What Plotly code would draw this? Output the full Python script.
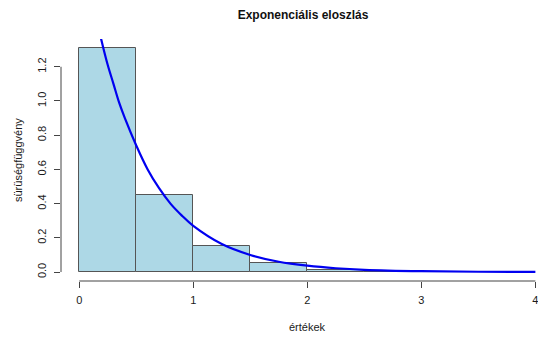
import plotly.graph_objects as go

# Histogram bins (density scale)
bin_left = [0.0, 0.5, 1.0, 1.5, 2.0, 2.5, 3.0]
bin_width = 0.5
bin_density = [1.31, 0.448, 0.153, 0.051, 0.012, 0.005, 0.002]

# Density curve
curve_x = [0.15, 0.2, 0.25, 0.3, 0.35, 0.4, 0.5, 0.6, 0.7, 0.8, 0.9, 1.0, 1.25, 1.5, 1.75, 2.0, 2.25, 2.5, 3.0, 3.5, 4.0]
curve_y = [1.48, 1.34, 1.21, 1.10, 0.99, 0.90, 0.74, 0.60, 0.49, 0.40, 0.33, 0.27, 0.164, 0.10, 0.060, 0.037, 0.022, 0.013, 0.005, 0.0018, 0.0007]

x_ticks = [0, 1, 2, 3, 4]
y_ticks = [0.0, 0.2, 0.4, 0.6, 0.8, 1.0, 1.2]
y_tick_labels = ["0.0", "0.2", "0.4", "0.6", "0.8", "1.0", "1.2"]

title_text = "Exponenciális eloszlás"
x_title = "értékek"
y_title = "sürüségfüggvény"

W, H = 538, 340
FONT = "Liberation Sans, Arial, sans-serif"
TXT = "#1a1a1a"

ymax = max(bin_density)
y_range = [-0.04 * ymax, ymax * 1.04]
x_range = [-0.16, 4.023]

fig = go.Figure()
fig.add_trace(go.Bar(
    x=[l + bin_width / 2 for l in bin_left],
    y=bin_density,
    width=bin_width,
    marker=dict(color="#ADD8E6", line=dict(color="#555555", width=1)),
    hoverinfo="skip",
))
fig.add_trace(go.Scatter(
    x=curve_x, y=curve_y, mode="lines",
    line=dict(color="#0000F0", width=2.2, shape="spline"),
    hoverinfo="skip",
))

shapes = [
    dict(type="line", xref="x", yref="paper", x0=x_ticks[0], x1=x_ticks[-1], y0=0, y1=0,
         line=dict(color="#444444", width=1)),
    dict(type="line", xref="paper", yref="y", x0=0, x1=0, y0=y_ticks[0], y1=y_ticks[-1],
         line=dict(color="#444444", width=1)),
]

annotations = [
    dict(text=x_title, xref="x", yref="paper", x=(x_range[0] + 4.16) / 2,
         y=0, yshift=-46, showarrow=False, font=dict(family=FONT, size=11, color=TXT),
         xanchor="center", yanchor="middle"),
    dict(text=y_title, xref="paper", yref="paper", x=0, y=0.5, xshift=-43, showarrow=False,
         textangle=-90, font=dict(family=FONT, size=11, color=TXT),
         xanchor="center", yanchor="middle"),
]

fig.update_layout(
    width=W, height=H,
    margin=dict(l=61, r=0, t=39, b=59),
    paper_bgcolor="white", plot_bgcolor="white",
    showlegend=False,
    bargap=0,
    title=dict(text="<b>" + title_text + "</b>", x=303 / W, xref="container", xanchor="center",
               y=1 - 15 / H, yref="container", yanchor="middle",
               font=dict(family=FONT, size=12, color="#111111")),
    xaxis=dict(range=x_range, tickvals=x_ticks, ticktext=[str(v) for v in x_ticks],
               ticks="outside", ticklen=6, tickcolor="#444444", tickwidth=1,
               ticklabeloverflow="allow", ticklabelstandoff=3,
               showgrid=False, zeroline=False, showline=False,
               tickfont=dict(family=FONT, size=11, color=TXT)),
    yaxis=dict(range=y_range, tickvals=y_ticks, ticktext=y_tick_labels,
               ticks="outside", ticklen=6, tickcolor="#444444", tickwidth=1, tickangle=-90,
               ticklabelstandoff=4,
               showgrid=False, zeroline=False, showline=False,
               tickfont=dict(family=FONT, size=11, color=TXT)),
    shapes=shapes,
    annotations=annotations,
)

fig.write_html("out.html")
